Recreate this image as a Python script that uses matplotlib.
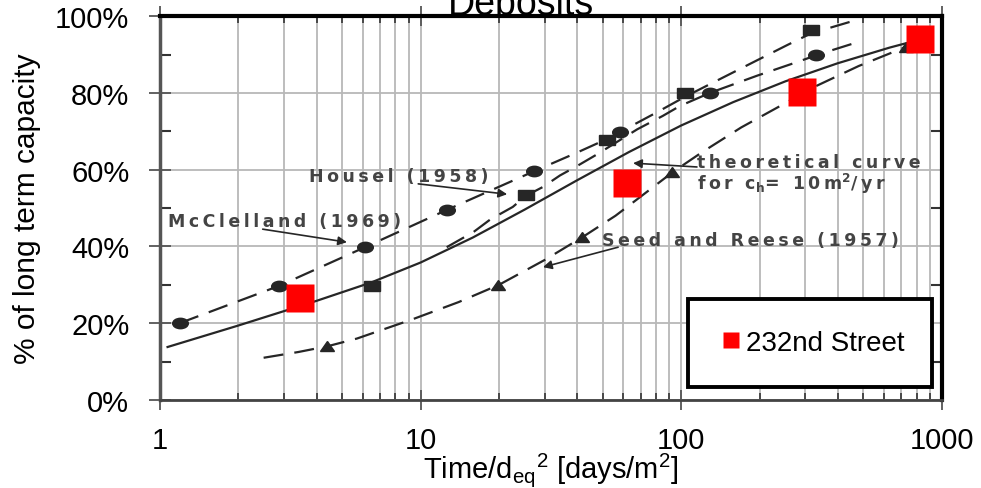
import matplotlib
matplotlib.use("Agg")
import matplotlib.pyplot as plt
from matplotlib.markers import MarkerStyle
from matplotlib.patches import Rectangle
from matplotlib.transforms import Affine2D
from matplotlib.ticker import FixedLocator, NullFormatter

plt.rcParams['font.family'] = ['Liberation Sans', 'DejaVu Sans']
plt.rcParams['mathtext.fontset'] = 'custom'
plt.rcParams['mathtext.rm'] = 'Liberation Sans'

# 232nd Street measurements (time factor, % of long term capacity)
site_t = [3.44, 61.8, 290, 823]
site_pct = [26.6, 56.4, 80.3, 94.1]

theory_t = [1.07, 2, 3.98, 6.46, 10, 15.85, 25.1, 39.8, 63.1, 100, 158.5, 251, 398, 631, 794]
theory_pct = [13.8, 19.4, 25.8, 30.6, 35.8, 42.3, 49.6, 57.2, 64.6, 71.5, 77.6, 83, 87.7, 91.8, 93.6]

mccl_t = [1.19, 2.86, 6.12, 12.6, 27.3, 40, 52, 59, 80, 103.6, 140, 183, 256, 315, 460]
mccl_pct = [20, 29.7, 39.8, 49.5, 59.6, 64.5, 68, 70, 74.8, 79, 83.5, 87.5, 92.5, 95.5, 98.8]

housel_t = [12.6, 16, 18.5, 22.6, 25.4, 29.5, 34.3, 40, 47.6, 67.8, 85, 99, 129, 196, 286, 336, 490]
housel_pct = [39.8, 43.8, 47, 50.3, 53.2, 55.5, 58.5, 61, 64, 70.5, 74, 76.6, 80, 84.5, 88.3, 90, 93.5]

seed_t = [2.5, 3.4, 4.4, 5.7, 9.3, 14, 20, 30, 42, 56, 70, 93, 120, 170, 240, 330, 480, 730, 800]
seed_pct = [11, 12.5, 14, 16, 21, 25.5, 30, 36.5, 42.5, 48, 53, 59.4, 64.5, 71, 76.6, 81.8, 87, 92, 93]

# data symbols on the published curves
circ_t = [1.19, 2.86, 6.12, 12.6, 27.3, 58.3, 129, 330]
circ_pct = [20, 29.7, 39.8, 49.5, 59.6, 69.8, 80, 89.8]
sq_t = [6.5, 25.4, 52, 103.6, 315]
sq_pct = [29.7, 53.3, 67.7, 80, 96.4]
tri_t = [4.38, 19.8, 41.7, 92.3, 730]
tri_pct = [14, 30, 42.4, 59.4, 92]

x_ticks = [1, 10, 100, 1000]
y_ticks = [0, 20, 40, 60, 80, 100]

ink = '#262626'
grid_c = '#b8b8b8'

fig = plt.figure(figsize=(9.81, 4.89), dpi=100)
ax = fig.add_axes([0.163, 0.180, 0.797, 0.785])
ax.set_zorder(2)
fig.text(0.531, 1 - 15 / 489, 'Deposits', ha='center', va='baseline',
         fontsize=27, zorder=1)

ax.set_xscale('log')
ax.set_xlim(1, 1000)
ax.set_ylim(0, 100)

# grid
ax.xaxis.set_minor_locator(FixedLocator([m * d for d in (1, 10, 100) for m in range(2, 10)]))
ax.xaxis.set_minor_formatter(NullFormatter())
ax.grid(True, which='both', axis='x', color=grid_c, lw=1.3)
ax.grid(True, which='major', axis='y', color=grid_c, lw=1.3)
ax.set_axisbelow(True)

dash = (9, 5)
ax.plot(theory_t, theory_pct, color=ink, lw=1.6, zorder=3)
ax.plot(mccl_t, mccl_pct, color=ink, lw=1.6, dashes=dash, zorder=3)
ax.plot(housel_t, housel_pct, color=ink, lw=1.6, dashes=dash, zorder=3)
ax.plot(seed_t, seed_pct, color=ink, lw=1.6, dashes=dash, zorder=3)

ell = MarkerStyle('o', transform=Affine2D().scale(1.5, 1.0))
box = MarkerStyle('s', transform=Affine2D().scale(1.5, 1.0))
tri = MarkerStyle('^', transform=Affine2D().scale(1.3, 0.9))
ax.plot(circ_t, circ_pct, ls='none', marker=ell, ms=7.5, color=ink, zorder=4)
ax.plot(sq_t, sq_pct, ls='none', marker=box, ms=7.5, color=ink, zorder=4)
ax.plot(tri_t, tri_pct, ls='none', marker=tri, ms=8, color=ink, zorder=4)

# curve labels, letters spread out with thin spaces
THIN = '\u2009'


def spaced(s):
    return THIN.join(s)


lab = dict(color='#444444', fontsize=12.5, fontweight='bold', family='DejaVu Sans',
           va='center', ha='left', zorder=5)
ax.text(1.07, 46.6, spaced('McClelland (1969)'), **lab)
ax.text(3.73, 58.3, spaced('Housel (1958)'), **lab)
ax.text(114.8, 62.0, spaced('theoretical curve'), **lab)
ax.text(114.8, 56.6, spaced('for c') + r'$_\mathregular{h}$' + spaced('= 10m')
        + r'$^\mathregular{2}$' + spaced('/yr'), **lab)
ax.text(49.6, 41.7, spaced('Seed and Reese (1957)'), **lab)

arr = dict(arrowstyle='-|>', color=ink, lw=1.2, mutation_scale=13, shrinkA=0, shrinkB=0)
ax.annotate('', xy=(5.22, 41.1), xytext=(2.48, 44.5), arrowprops=arr, zorder=5)
ax.annotate('', xy=(21.5, 53.6), xytext=(9.8, 56.3), arrowprops=arr, zorder=5)
ax.annotate('', xy=(65.4, 61.7), xytext=(115, 60.7), arrowprops=arr, zorder=5)
ax.annotate('', xy=(29.5, 34.6), xytext=(57.3, 39.8), arrowprops=arr, zorder=5)

ax.plot(site_t, site_pct, ls='none', marker='s', ms=19.5, color='#ff0000',
        mec='none', zorder=6, label='232nd Street')

# axes frame
ax.spines['left'].set_color('#555555')
ax.spines['left'].set_linewidth(2.5)
ax.spines['bottom'].set_color('#444444')
ax.spines['bottom'].set_linewidth(2)
for side in ('top', 'right'):
    ax.spines[side].set_color('black')
    ax.spines[side].set_linewidth(3)

ax.set_xticks(x_ticks)
ax.set_xticklabels([str(v) for v in x_ticks])
ax.set_yticks(y_ticks)
ax.set_yticklabels([f'{v}%' for v in y_ticks])
ax.yaxis.set_minor_locator(FixedLocator(list(range(10, 100, 10))))

ax.tick_params(axis='x', which='major', direction='inout', length=14, width=1.3,
               color='#555555', labelsize=21, pad=12, top=True)
ax.tick_params(axis='x', which='minor', direction='in', length=5, width=1.2,
               color='#333333', top=True)
ax.tick_params(axis='y', which='major', direction='inout', length=16, width=1.3,
               color='#555555', labelsize=21, pad=14, right=False)
ax.tick_params(axis='y', which='minor', direction='in', length=8, width=1.5,
               color='#333333', right=True)

ax.set_xlabel(r'Time/d$_\mathregular{eq}$$^\mathregular{2}$ [days/m$^\mathregular{2}$]',
              fontsize=21, labelpad=-3)
ax.set_ylabel('% of long term capacity', fontsize=21.5, labelpad=10)

# legend box
ax.add_patch(Rectangle((0.675, 0.034), 0.313, 0.229, transform=ax.transAxes,
                       fill=True, facecolor='white', edgecolor='black', lw=2.8,
                       zorder=7))
leg = ax.legend(loc='center', bbox_to_anchor=(0.836, 0.1485), frameon=False,
                fontsize=20, markerscale=0.62, handlelength=0.6, handletextpad=0.25)
leg.set_zorder(8)

fig.savefig('out.png', dpi=100)
